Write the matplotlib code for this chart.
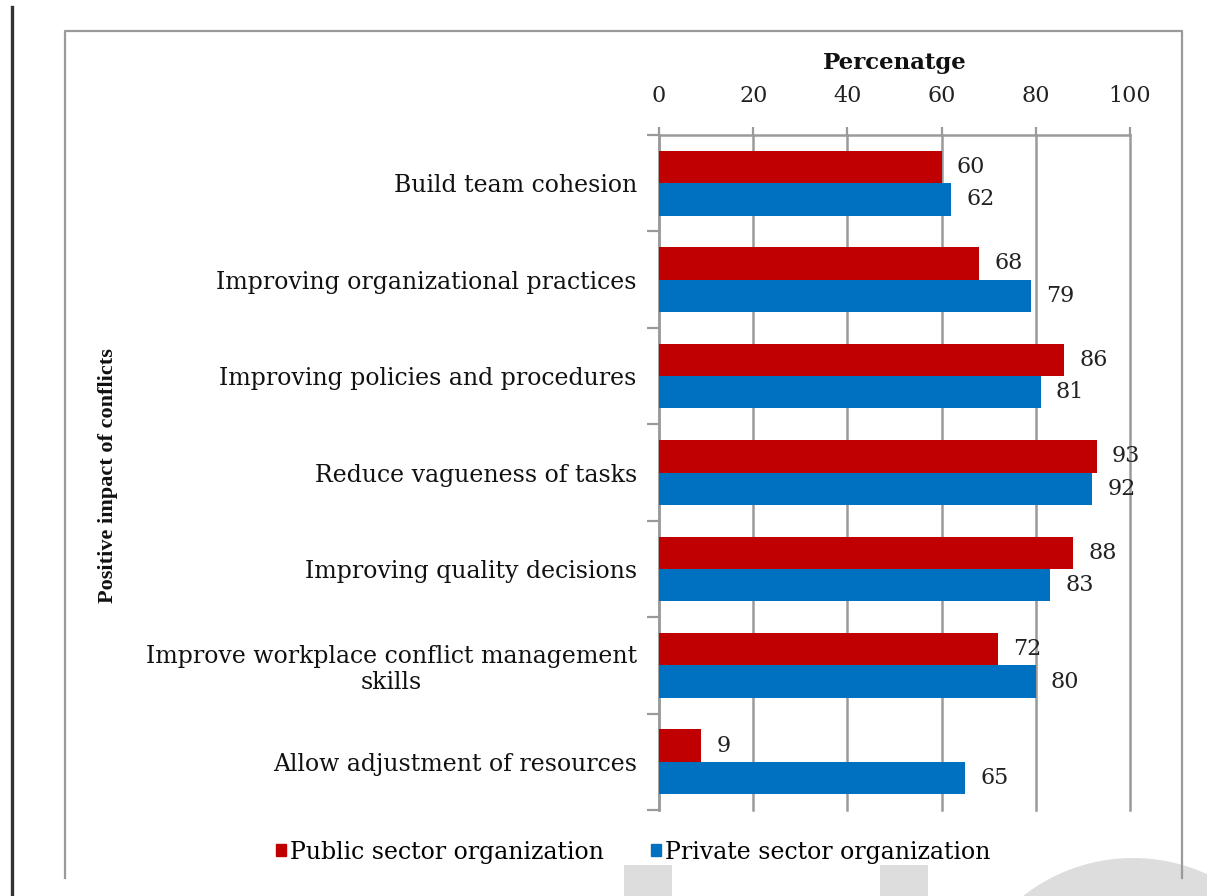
import matplotlib
matplotlib.use("Agg")
import matplotlib.pyplot as plt
import numpy as np
from matplotlib.patches import Patch, Rectangle, Circle
from matplotlib.lines import Line2D
from matplotlib.transforms import IdentityTransform

# survey results (percent of respondents)
categories = [
    "Build team cohesion",
    "Improving organizational practices",
    "Improving policies and procedures",
    "Reduce vagueness of tasks",
    "Improving quality decisions",
    "Improve workplace conflict management\nskills",
    "Allow adjustment of resources",
]
public_sector = [60, 68, 86, 93, 88, 72, 9]
private_sector = [62, 79, 81, 92, 83, 80, 65]
series_names = ["Public sector organization", "Private sector organization"]
x_ticks = [0, 20, 40, 60, 80, 100]

red = "#C00000"
blue = "#0070C0"
grey = "#9a9a9a"
serif = "DejaVu Serif"

W, H = 1207, 896
fig = plt.figure(figsize=(W / 100, H / 100), dpi=100)


def fx(px):
    return px / W


def fy(py):
    return 1 - py / H


# watermark shapes at the bottom of the page
for left in (624, 880):
    fig.patches.append(Rectangle((fx(left), 0), fx(48), fy(865), transform=fig.transFigure,
                                 color="#dddddd", lw=0, zorder=0))
fig.patches.append(Circle((1133, H - 1036), 178, transform=IdentityTransform(),
                          color="#dddddd", lw=0, zorder=0))

# chart frame (left, top, right)
fig.lines.append(Line2D([fx(65), fx(65), fx(1182), fx(1182)], [fy(878), fy(31), fy(31), fy(878)],
                        transform=fig.transFigure, color=grey, lw=1.6, zorder=1))
# page edge on the left
fig.lines.append(Line2D([fx(11.5), fx(11.5)], [0, fy(7)], transform=fig.transFigure,
                        color="#333333", lw=2.4, zorder=1))

ax = fig.add_axes([fx(659), fy(810), fx(1130) - fx(659), fy(135) - fy(810)])
ax.set_facecolor("none")

y = np.arange(len(categories))
h = 0.335
ax.barh(y - h / 2, public_sector, height=h, color=red, zorder=3)
ax.barh(y + h / 2, private_sector, height=h, color=blue, zorder=3)

for i in range(len(categories)):
    ax.text(public_sector[i] + 3.2, y[i] - h / 2, str(public_sector[i]), va="center", ha="left",
            fontsize=16, family=serif, color="#222222")
    ax.text(private_sector[i] + 3.2, y[i] + h / 2, str(private_sector[i]), va="center", ha="left",
            fontsize=16, family=serif, color="#222222")

ax.set_xlim(0, 100)
ax.set_ylim(len(categories) - 0.5, -0.5)

ax.xaxis.tick_top()
ax.xaxis.set_label_position("top")
ax.set_xticks(x_ticks)
ax.set_xticklabels([str(t) for t in x_ticks], family=serif, fontsize=16, color="#222222")
ax.tick_params(axis="x", which="major", length=6, width=1.6, color=grey, pad=14)
ax.set_xlabel("Percenatge", family=serif, fontsize=16.5, fontweight="bold", labelpad=12, color="#111111")
ax.grid(axis="x", color=grey, lw=1.8, zorder=1)
for gl in ax.get_xgridlines():
    gl.set_clip_on(False)

ax.set_yticks(np.arange(-0.5, len(categories), 1.0))
ax.set_yticklabels([])
ax.tick_params(axis="y", which="major", length=9, width=1.6, color=grey)
ax.set_yticks(y, categories, minor=True)
ax.tick_params(axis="y", which="minor", length=0, pad=16)
for lab in ax.get_yticklabels(minor=True):
    lab.set_family(serif)
    lab.set_fontsize(17)
    lab.set_multialignment("center")
    lab.set_color("#111111")

for side in ["bottom", "right"]:
    ax.spines[side].set_visible(False)
for side in ["top", "left"]:
    ax.spines[side].set_color(grey)
    ax.spines[side].set_linewidth(1.8)

fig.text(fx(108), fy(476), "Positive impact of conflicts", rotation=90, ha="center", va="center",
         family="Liberation Serif", fontweight="bold", fontsize=16, color="#111111")

handles = [Patch(color=red), Patch(color=blue)]
fig.legend(handles, series_names, loc="center", bbox_to_anchor=(fx(633), fy(852)), ncol=2,
           frameon=False, handlelength=0.45, handleheight=0.45, handletextpad=0.15,
           columnspacing=2.0, prop={"family": serif, "size": 17})

fig.savefig("out.png", dpi=100)
